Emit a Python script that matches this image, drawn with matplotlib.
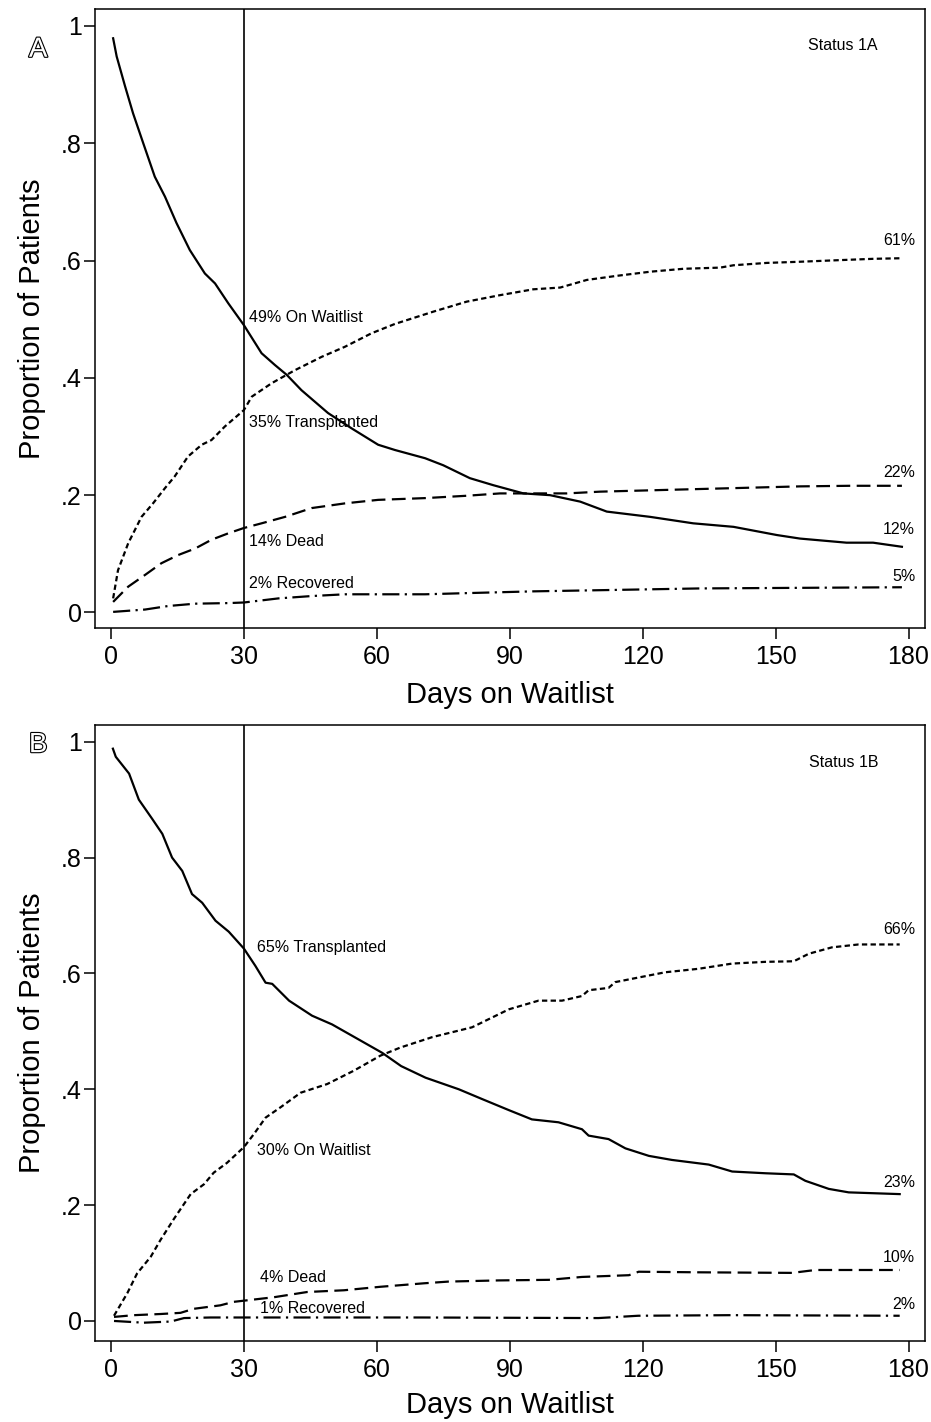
import matplotlib
matplotlib.use("Agg")
import matplotlib.pyplot as plt
import matplotlib.patheffects as pe
from matplotlib.ticker import FuncFormatter

plt.rcParams['font.family'] = ['Liberation Sans', 'DejaVu Sans']

# ---- Panel A (Status 1A) ----
a_wait_day = [0.5, 1.3, 3.2, 5, 7.3, 9.9, 12.2, 14.8, 17.8, 21.2, 23.5, 26.5, 30, 34, 37, 39.7, 43, 49,
              54.3, 60.3, 64.1, 70.9, 75, 81, 86.3, 93.1, 99.1, 105.9, 111.9, 121.7, 131.4, 140.5,
              150.3, 155.5, 166, 172, 178.5]
a_wait_val = [0.979, 0.948, 0.897, 0.851, 0.80, 0.743, 0.709, 0.664, 0.618, 0.578, 0.561, 0.527, 0.49,
              0.442, 0.422, 0.405, 0.379, 0.34, 0.314, 0.286, 0.277, 0.263, 0.251, 0.229, 0.217, 0.203,
              0.2, 0.189, 0.172, 0.163, 0.152, 0.146, 0.132, 0.126, 0.119, 0.119, 0.112]
a_tx_day = [0.5, 1.6, 3.9, 6.9, 9.5, 12.2, 14.4, 17.4, 20.5, 22.7, 25.7, 30, 31.8, 36.3, 41.5, 47.6, 52.8,
            58.8, 64.1, 72.8, 80.3, 87.8, 95.3, 101.4, 107.4, 114.2, 121.7, 129.2, 137.5, 140.5, 148,
            155.5, 165.3, 172.1, 178.5]
a_tx_val = [0.024, 0.072, 0.118, 0.163, 0.186, 0.212, 0.232, 0.266, 0.286, 0.294, 0.317, 0.345, 0.368,
            0.391, 0.413, 0.436, 0.453, 0.476, 0.492, 0.513, 0.53, 0.541, 0.551, 0.554, 0.567, 0.574,
            0.581, 0.586, 0.588, 0.592, 0.596, 0.598, 0.601, 0.603, 0.604]
a_dead_day = [0.5, 3.9, 7.7, 11.4, 15.2, 19, 22.7, 26.5, 30, 34, 39.3, 45.3, 52.8, 60.3, 70.9, 80.3,
              87.8, 102.9, 110.4, 125.4, 140.5, 155.5, 166.8, 178.5]
a_dead_val = [0.018, 0.044, 0.064, 0.084, 0.098, 0.109, 0.124, 0.135, 0.144, 0.152, 0.163, 0.178, 0.186,
              0.192, 0.195, 0.199, 0.203, 0.203, 0.206, 0.209, 0.212, 0.215, 0.216, 0.216]
a_rec_day = [0.5, 7.7, 12.9, 19, 26.5, 30, 37.8, 45.3, 52.8, 70.9, 80.3, 95.3, 110.4, 133, 155.5, 178.5]
a_rec_val = [0.001, 0.005, 0.011, 0.015, 0.016, 0.017, 0.024, 0.028, 0.031, 0.031, 0.033, 0.036, 0.038,
             0.041, 0.042, 0.043]

# ---- Panel B (Status 1B) ----
b_solid_day = [0.45, 1.1, 4.1, 6.3, 9.3, 11.6, 13.8, 16.1, 18.3, 20.6, 23.6, 26.6, 30, 32.6, 34.9, 36.4,
               40.2, 45.4, 49.9, 55.9, 61.2, 65.5, 71, 78.5, 83.8, 89.8, 95, 101, 106.3, 107.8, 112.3,
               116.1, 121.4, 126.6, 134.9, 140.2, 147.7, 154.1, 156.7, 162, 166.5, 178]
b_solid_val = [0.988, 0.974, 0.945, 0.90, 0.867, 0.841, 0.80, 0.777, 0.737, 0.722, 0.691, 0.672, 0.643,
               0.613, 0.584, 0.582, 0.553, 0.527, 0.512, 0.486, 0.463, 0.44, 0.42, 0.40, 0.383, 0.364,
               0.348, 0.343, 0.331, 0.32, 0.314, 0.298, 0.285, 0.278, 0.27, 0.258, 0.255, 0.253, 0.242,
               0.228, 0.222, 0.219]
b_dot_day = [0.7, 3.7, 5.9, 9, 11.2, 14.2, 18, 21, 23.2, 26.2, 30, 32.3, 34.9, 38.3, 42.8, 48.8, 54.8,
             60.8, 65.3, 72.5, 81.5, 89.8, 96.5, 101.8, 106.3, 107.8, 112.3, 113.8, 119.1, 125.1, 132.6,
             140.2, 147.7, 154.1, 157.5, 162.7, 168.7, 178]
b_dot_val = [0.009, 0.048, 0.082, 0.111, 0.14, 0.176, 0.219, 0.236, 0.256, 0.273, 0.30, 0.323, 0.351,
             0.369, 0.394, 0.409, 0.432, 0.458, 0.472, 0.49, 0.507, 0.538, 0.553, 0.553, 0.561, 0.571,
             0.575, 0.585, 0.593, 0.602, 0.608, 0.617, 0.62, 0.621, 0.634, 0.645, 0.65, 0.65]
b_dead_day = [0.7, 5.2, 11.2, 15.7, 18.7, 24.7, 27.7, 30, 36.8, 44.3, 52.6, 60.8, 70.6, 76.2, 87.5, 98.8,
              106.3, 116.9, 119.1, 132.6, 153.7, 159, 178]
b_dead_val = [0.007, 0.01, 0.012, 0.014, 0.021, 0.027, 0.033, 0.035, 0.041, 0.05, 0.053, 0.059, 0.065,
              0.068, 0.07, 0.071, 0.076, 0.079, 0.085, 0.084, 0.083, 0.088, 0.088]
b_rec_day = [0.7, 7.4, 13.5, 16.5, 22.5, 30, 70, 110, 119, 140, 178]
b_rec_val = [0.0, -0.003, -0.001, 0.005, 0.006, 0.006, 0.006, 0.005, 0.009, 0.01, 0.009]

x_ticks = [0, 30, 60, 90, 120, 150, 180]
y_ticks = [0, 0.2, 0.4, 0.6, 0.8, 1.0]

LW = 1.6
STY_SOLID = '-'
STY_DOT = (0, (2.4, 1.5))
STY_DASH = (0, (6.2, 2.9))
STY_DASHDOT = (0, (7.7, 2.4, 1.0, 2.4))


def yfmt(v, pos):
    if abs(v) < 1e-9:
        return '0'
    if abs(v - 1) < 1e-9:
        return '1'
    return ('%.1f' % v).lstrip('0')


def setup(ax, ylo, xlab_y):
    ax.set_xlim(-3.6, 183.7)
    ax.set_ylim(ylo, 1.029)
    ax.set_xticks(x_ticks)
    ax.set_yticks(y_ticks)
    ax.yaxis.set_major_formatter(FuncFormatter(yfmt))
    ax.tick_params(direction='out', length=8, width=1.1, labelsize=18, top=False, right=False)
    ax.tick_params(axis='x', pad=4)
    ax.tick_params(axis='y', pad=1.5)
    for s in ax.spines.values():
        s.set_linewidth(1.1)
    ax.axvline(30, color='black', lw=1.2)
    ax.set_xlabel('Days on Waitlist', fontsize=21, va='center')
    ax.set_ylabel('Proportion of Patients', fontsize=21, va='center')
    ax.xaxis.set_label_coords(0.5, xlab_y)
    ax.yaxis.set_label_coords(-0.076, 0.5)


fig = plt.figure(figsize=(9.31, 14.22), dpi=100)
axA = fig.add_axes([0.1020, 0.5584, 0.8915, 0.4353])
axB = fig.add_axes([0.1020, 0.0570, 0.8915, 0.4332])

# Panel A
setup(axA, -0.0264, -0.108)
axA.plot(a_wait_day, a_wait_val, color='black', lw=LW, linestyle=STY_SOLID)
axA.plot(a_tx_day, a_tx_val, color='black', lw=LW, linestyle=STY_DOT)
axA.plot(a_dead_day, a_dead_val, color='black', lw=LW, linestyle=STY_DASH)
axA.plot(a_rec_day, a_rec_val, color='black', lw=LW, linestyle=STY_DASHDOT)
fs = 11.5
axA.text(31.2, 0.503, '49% On Waitlist', fontsize=fs, va='center')
axA.text(31.2, 0.324, '35% Transplanted', fontsize=fs, va='center')
axA.text(31.2, 0.121, '14% Dead', fontsize=fs, va='center')
axA.text(31.2, 0.050, '2% Recovered', fontsize=fs, va='center')
axA.text(181.5, 0.635, '61%', fontsize=fs, va='center', ha='right')
axA.text(181.5, 0.238, '22%', fontsize=fs, va='center', ha='right')
axA.text(181.5, 0.141, '12%', fontsize=fs, va='center', ha='right')
axA.text(181.5, 0.061, '5%', fontsize=fs, va='center', ha='right')
axA.text(157.3, 0.966, 'Status 1A', fontsize=fs, va='center')

# Panel B
setup(axB, -0.0345, -0.104)
axB.plot(b_solid_day, b_solid_val, color='black', lw=LW, linestyle=STY_SOLID)
axB.plot(b_dot_day, b_dot_val, color='black', lw=LW, linestyle=STY_DOT)
axB.plot(b_dead_day, b_dead_val, color='black', lw=LW, linestyle=STY_DASH)
axB.plot(b_rec_day, b_rec_val, color='black', lw=LW, linestyle=STY_DASHDOT)
axB.text(33.0, 0.644, '65% Transplanted', fontsize=fs, va='center')
axB.text(33.0, 0.294, '30% On Waitlist', fontsize=fs, va='center')
axB.text(33.6, 0.075, '4% Dead', fontsize=fs, va='center')
axB.text(33.6, 0.022, '1% Recovered', fontsize=fs, va='center')
axB.text(181.5, 0.676, '66%', fontsize=fs, va='center', ha='right')
axB.text(181.5, 0.239, '23%', fontsize=fs, va='center', ha='right')
axB.text(181.5, 0.110, '10%', fontsize=fs, va='center', ha='right')
axB.text(181.5, 0.029, '2%', fontsize=fs, va='center', ha='right')
axB.text(157.5, 0.965, 'Status 1B', fontsize=fs, va='center')

# panel letters (outlined)
for letter, yy in [('A', 0.965), ('B', 0.476)]:
    fig.text(0.041, yy, letter, fontsize=20, ha='center', va='center', color='white',
             path_effects=[pe.withStroke(linewidth=1.6, foreground='black')])

fig.savefig('out.png', dpi=100)
